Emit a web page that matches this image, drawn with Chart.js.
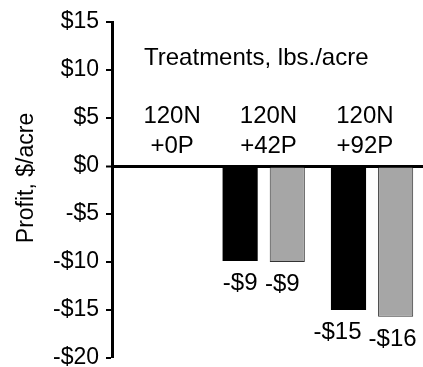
<!DOCTYPE html>
<html>
<head>
<meta charset="utf-8">
<script src="https://cdn.jsdelivr.net/npm/chart.js@4/dist/chart.umd.min.js"></script>
<style>
  html, body { margin: 0; padding: 0; background: #fff; }
  #wrap { width: 423px; height: 367px; position: relative; }
</style>
</head>
<body>
<div id="wrap"><canvas id="c" width="423" height="367"></canvas></div>
<script>
// ---- data ----
const categoryLine1 = ['120N', '120N', '120N'];
const categoryLine2 = ['+0P', '+42P', '+92P'];
const blackValues = [0, -9.9, -15.0];
const grayValues  = [0, -10.0, -15.7];
const blackLabels = ['', '-$9', '-$15'];
const grayLabels  = ['', '-$9', '-$16'];
const yTicks = [15, 10, 5, 0, -5, -10, -15, -20];
const groupTitle = 'Treatments, lbs./acre';
const yTitle = 'Profit, $/acre';

const FONT = "'Liberation Sans', Arial, Helvetica, sans-serif";

function fmtMoney(v) {
  return v < 0 ? '-$' + Math.abs(v) : '$' + v;
}

const textPlugin = {
  id: 'textPlugin',
  afterDatasetsDraw(chart) {
    const ctx = chart.ctx;
    const area = chart.chartArea;
    const y = chart.scales.y;
    const zero = y.getPixelForValue(0);
    ctx.save();
    ctx.fillStyle = '#000';
    // y axis title (rotated)
    ctx.save();
    ctx.font = '23px ' + FONT;
    ctx.textAlign = 'center';
    ctx.textBaseline = 'alphabetic';
    ctx.translate(33, zero + 12);
    ctx.rotate(-Math.PI / 2);
    ctx.fillText(yTitle, 0, 0);
    ctx.restore();

    ctx.font = '24px ' + FONT;
    ctx.textBaseline = 'alphabetic';
    // group title
    ctx.textAlign = 'left';
    ctx.fillText(groupTitle, area.left + 32, zero - 101);
    // category labels (evenly spaced around the plot centre)
    ctx.textAlign = 'center';
    const mid = (area.left + area.right) / 2;
    const step = (area.right - area.left) * 0.31;
    for (let i = 0; i < categoryLine1.length; i++) {
      const cx = mid + (i - 1) * step;
      ctx.fillText(categoryLine1[i], cx + 1, zero - 43);
      ctx.fillText(categoryLine2[i], cx + 1, zero - 13);
    }
    // value labels below bars
    const dxs = { 0: [0, 0, -11], 1: [0, -5, -3] };
    [blackLabels, grayLabels].forEach((labels, di) => {
      const meta = chart.getDatasetMeta(di);
      meta.data.forEach((bar, i) => {
        if (!labels[i]) return;
        ctx.fillText(labels[i], bar.x + dxs[di][i], bar.y + 29);
      });
    });
    ctx.restore();
  }
};

new Chart(document.getElementById('c'), {
  type: 'bar',
  data: {
    datasets: [
      {
        data: blackValues.map((v, i) => ({ x: i + 1, y: v })),
        backgroundColor: '#000000',
        borderWidth: 0
      },
      {
        data: grayValues.map((v, i) => ({ x: i + 1, y: v })),
        backgroundColor: '#a6a6a6',
        borderColor: '#333333',
        borderWidth: 1
      }
    ]
  },
  options: {
    responsive: false,
    animation: false,
    devicePixelRatio: 1,
    categoryPercentage: 0.87,
    barPercentage: 0.745,
    layout: { padding: { top: 22, bottom: 9, left: 0, right: 0 } },
    plugins: {
      legend: { display: false },
      tooltip: { enabled: false }
    },
    scales: {
      x: {
        type: 'linear',
        min: 0.6,
        max: 3.47,
        offset: false,
        display: false,
        afterBuildTicks(scale) {
          scale.ticks = categoryLine1.map((_, i) => ({ value: i + 1 }));
        }
      },
      y: {
        min: -20,
        max: 15,
        afterBuildTicks(scale) {
          scale.ticks = yTicks.map(v => ({ value: v }));
        },
        afterFit(scale) {
          scale.width = 112;
          scale.paddingTop = 0;
          scale.paddingBottom = 0;
        },
        ticks: {
          color: '#000',
          font: { family: FONT, size: 23 },
          padding: 7,
          callback: v => fmtMoney(v)
        },
        grid: {
          drawOnChartArea: true,
          drawTicks: true,
          tickLength: 6,
          tickColor: '#000',
          tickWidth: 2,
          color: c => (c.tick && c.tick.value === 0) ? '#000' : 'rgba(0,0,0,0)',
          lineWidth: c => (c.tick && c.tick.value === 0) ? 3 : 0
        },
        border: { display: true, color: '#000', width: 3 },
        title: { display: false }
      }
    }
  },
  plugins: [textPlugin]
});
</script>
</body>
</html>
